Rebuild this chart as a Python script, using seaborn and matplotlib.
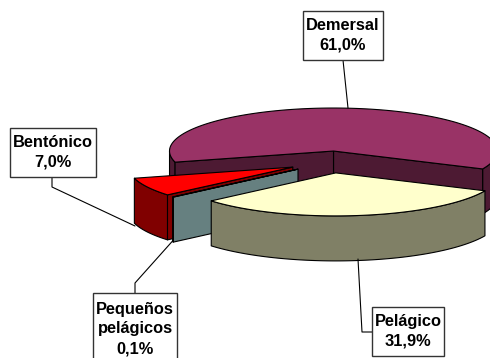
import numpy as np
import matplotlib
matplotlib.use('Agg')
import matplotlib.pyplot as plt
from matplotlib.patches import Polygon
import seaborn as sns

# drawn back to front, counter-clockwise from start_angle
names = ['Demersal', 'Bentónico', 'Pequeños\npelágicos', 'Pelágico']
values = [61.0, 7.0, 0.1, 31.9]
value_labels = ['61,0%', '7,0%', '0,1%', '31,9%']
colors = ['#993366', '#FF0000', '#CCFFFF', '#FFFFCC']

box_centers = [(343, 35.5), (52.5, 152.5), (135, 329), (408, 331.5)]
box_sizes = [(80, 49), (86, 49), (84, 72), (72, 49)]
# leader line: label side elbow, then the slice
leaders = [[(343, 60), (348, 108)],
           [(52, 177), (52, 187), (135, 226)],
           [(135, 293), (135, 283), (173, 240.5)],
           [(372, 332), (362, 332), (358, 259)]]

cx, cy = 330, 162
rx, ry = 164, 43
depth = 45
explode = 42
start_angle = -24.6

sns.set_theme(style='white')
plt.rcParams['font.family'] = ['Liberation Sans', 'DejaVu Sans']

fig, ax = plt.subplots(figsize=(4.9, 3.58), dpi=100)
fig.subplots_adjust(0, 0, 1, 1)
ax.set_xlim(0, 490)
ax.set_ylim(358, 0)
ax.axis('off')


def rim(ox, oy, angles):
    rad = np.radians(angles)
    return np.column_stack([ox + rx * np.cos(rad), oy - ry * np.sin(rad)])


def draw_slice(a0, a1, color):
    mid = np.radians((a0 + a1) / 2)
    ox = cx + explode * np.cos(mid)
    oy = cy - explode * ry / rx * np.sin(mid)
    dark = tuple(c * 0.5 for c in matplotlib.colors.to_rgb(color))
    style = dict(edgecolor='black', linewidth=0.8, joinstyle='round')

    # outer wall, only the part turned to the viewer
    angles = np.linspace(a0, a1, max(int((a1 - a0) * 2), 2) + 1)
    front = np.sin(np.radians(angles)) < 0
    for part in np.split(angles, np.where(np.diff(front.astype(int)))[0] + 1):
        if np.sin(np.radians(part.mean())) < 0:
            edge = rim(ox, oy, part)
            wall = np.vstack([edge, edge[::-1] + [0, depth]])
            ax.add_patch(Polygon(wall, facecolor=dark, **style))

    # cut faces
    for ang, normal in ((a0, a0 - 90), (a1, a1 + 90)):
        if np.sin(np.radians(normal)) < 0:
            p = rim(ox, oy, [ang])[0]
            face = [(ox, oy), p, p + [0, depth], (ox, oy + depth)]
            ax.add_patch(Polygon(face, facecolor=dark, **style))

    # top
    top = np.vstack([[ox, oy], rim(ox, oy, angles)])
    ax.add_patch(Polygon(top, facecolor=color, **style))


angle = start_angle
for value, color in zip(values, colors):
    sweep = value / sum(values) * 360
    draw_slice(angle, angle + sweep, color)
    angle += sweep

for name, label, center, size, line in zip(names, value_labels, box_centers, box_sizes, leaders):
    xs, ys = zip(*line)
    ax.plot(xs, ys, color='black', linewidth=0.8, zorder=5)
    ax.add_patch(plt.Rectangle((center[0] - size[0] / 2, center[1] - size[1] / 2), size[0], size[1],
                               facecolor='white', edgecolor='#333333', linewidth=1, zorder=6))
    ax.text(center[0], center[1], name + '\n' + label, ha='center', va='center', fontsize=11.8,
            fontweight='bold', color='black', linespacing=1.38, zorder=7)

plt.savefig('out.png', dpi=100)
